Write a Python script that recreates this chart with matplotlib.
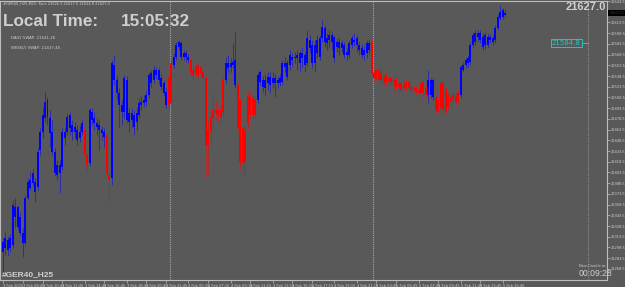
import numpy as np
import matplotlib
matplotlib.use("Agg")
import matplotlib.pyplot as plt

# GER40 M15 candles, 3 Feb - 5 Feb 2025
opens = [21292, 21298, 21295, 21298, 21302, 21341, 21327, 21319, 21305, 21305,
         21368, 21382, 21389, 21376, 21383, 21435, 21460, 21480, 21481, 21459,
         21432, 21403, 21400, 21403, 21411, 21452, 21460, 21466, 21460, 21460,
         21449, 21452, 21460, 21463, 21428, 21417, 21477, 21473, 21467, 21463,
         21459, 21453, 21456, 21400, 21396, 21533, 21515, 21498, 21488, 21488,
         21477, 21474, 21477, 21467, 21474, 21484, 21498, 21501, 21502, 21512,
         21529, 21533, 21540, 21533, 21523, 21515, 21498, 21536, 21557, 21554,
         21565, 21579, 21565, 21565, 21565, 21561, 21561, 21547, 21551, 21554,
         21551, 21544, 21536, 21463, 21481, 21491, 21491, 21491, 21491, 21533,
         21533, 21550, 21551, 21554, 21526, 21526, 21505, 21466, 21463, 21512,
         21509, 21509, 21505, 21505, 21530, 21523, 21522, 21529, 21526, 21529,
         21529, 21529, 21529, 21530, 21551, 21537, 21554, 21561, 21564, 21564,
         21557, 21564, 21554, 21557, 21578, 21557, 21557, 21571, 21565, 21592,
         21586, 21585, 21589, 21586, 21564, 21579, 21578, 21578, 21568, 21568,
         21568, 21582, 21586, 21582, 21575, 21568, 21568, 21571, 21575, 21586,
         21543, 21547, 21547, 21543, 21537, 21540, 21536, 21536, 21533, 21533,
         21529, 21529, 21526, 21530, 21530, 21523, 21522, 21522, 21519, 21529,
         21530, 21522, 21512, 21512, 21509, 21509, 21505, 21529, 21529, 21519,
         21512, 21509, 21512, 21512, 21515, 21512, 21547, 21554, 21557, 21558,
         21582, 21586, 21593, 21589, 21579, 21582, 21582, 21589, 21586, 21589,
         21606, 21620, 21621, 21624]
highs = [21312, 21320, 21315, 21317, 21365, 21368, 21358, 21348, 21326, 21372,
         21396, 21404, 21410, 21396, 21438, 21466, 21495, 21516, 21509, 21491,
         21477, 21438, 21421, 21421, 21466, 21466, 21487, 21488, 21477, 21474,
         21470, 21470, 21477, 21466, 21432, 21494, 21494, 21488, 21480, 21477,
         21469, 21466, 21459, 21404, 21561, 21568, 21539, 21522, 21505, 21540,
         21539, 21494, 21494, 21491, 21494, 21508, 21511, 21512, 21519, 21544,
         21547, 21553, 21551, 21550, 21541, 21533, 21522, 21540, 21561, 21571,
         21586, 21589, 21588, 21575, 21575, 21569, 21564, 21553, 21555, 21558,
         21555, 21548, 21539, 21477, 21488, 21516, 21505, 21498, 21498, 21540,
         21565, 21568, 21564, 21585, 21600, 21530, 21508, 21470, 21470, 21519,
         21516, 21515, 21512, 21544, 21547, 21539, 21541, 21544, 21544, 21544,
         21541, 21539, 21541, 21561, 21565, 21561, 21575, 21571, 21572, 21575,
         21575, 21579, 21572, 21603, 21596, 21589, 21589, 21596, 21596, 21617,
         21610, 21599, 21603, 21600, 21596, 21592, 21592, 21589, 21586, 21578,
         21589, 21596, 21599, 21596, 21586, 21583, 21581, 21589, 21589, 21589,
         21547, 21550, 21551, 21547, 21541, 21544, 21540, 21539, 21536, 21537,
         21533, 21533, 21533, 21536, 21533, 21527, 21526, 21526, 21523, 21533,
         21536, 21526, 21547, 21536, 21536, 21513, 21509, 21533, 21533, 21523,
         21516, 21515, 21516, 21516, 21519, 21554, 21558, 21564, 21568, 21586,
         21600, 21603, 21603, 21603, 21599, 21600, 21599, 21597, 21596, 21610,
         21625, 21638, 21634, 21631]
lows = [21263, 21288, 21287, 21292, 21298, 21327, 21323, 21315, 21285, 21302,
        21365, 21379, 21385, 21362, 21379, 21428, 21452, 21474, 21470, 21439,
        21428, 21399, 21393, 21375, 21407, 21442, 21456, 21456, 21449, 21452,
        21442, 21446, 21456, 21424, 21404, 21413, 21470, 21463, 21456, 21435,
        21449, 21439, 21399, 21361, 21386, 21526, 21505, 21467, 21470, 21480,
        21473, 21460, 21466, 21456, 21463, 21480, 21491, 21495, 21497, 21508,
        21523, 21529, 21534, 21527, 21519, 21511, 21494, 21488, 21497, 21550,
        21561, 21575, 21561, 21561, 21558, 21557, 21539, 21533, 21537, 21536,
        21537, 21530, 21397, 21400, 21442, 21470, 21477, 21474, 21470, 21484,
        21529, 21544, 21544, 21550, 21522, 21460, 21407, 21400, 21399, 21463,
        21477, 21480, 21480, 21501, 21526, 21516, 21512, 21519, 21515, 21522,
        21509, 21522, 21525, 21526, 21544, 21533, 21547, 21553, 21557, 21547,
        21544, 21550, 21544, 21553, 21571, 21550, 21544, 21564, 21561, 21586,
        21579, 21575, 21578, 21575, 21558, 21572, 21568, 21572, 21564, 21561,
        21564, 21578, 21581, 21572, 21568, 21564, 21561, 21564, 21571, 21539,
        21530, 21533, 21529, 21527, 21526, 21525, 21526, 21525, 21519, 21519,
        21516, 21515, 21519, 21518, 21515, 21512, 21516, 21512, 21509, 21511,
        21509, 21508, 21501, 21508, 21505, 21488, 21485, 21490, 21487, 21484,
        21491, 21498, 21501, 21499, 21499, 21508, 21544, 21550, 21551, 21554,
        21578, 21582, 21588, 21585, 21575, 21576, 21578, 21585, 21582, 21585,
        21603, 21617, 21618, 21621]
closes = [21306, 21312, 21309, 21312, 21358, 21355, 21355, 21341, 21319, 21368,
          21390, 21393, 21403, 21390, 21432, 21460, 21484, 21502, 21505, 21480,
          21460, 21432, 21414, 21414, 21460, 21460, 21481, 21484, 21470, 21467,
          21463, 21460, 21473, 21428, 21414, 21491, 21488, 21480, 21473, 21470,
          21463, 21460, 21403, 21393, 21557, 21554, 21533, 21515, 21498, 21536,
          21533, 21487, 21487, 21484, 21487, 21501, 21502, 21505, 21512, 21540,
          21543, 21547, 21547, 21547, 21536, 21529, 21516, 21498, 21501, 21565,
          21582, 21586, 21585, 21571, 21571, 21565, 21543, 21540, 21543, 21540,
          21543, 21536, 21442, 21442, 21460, 21480, 21487, 21484, 21481, 21488,
          21557, 21557, 21557, 21558, 21561, 21466, 21418, 21417, 21418, 21473,
          21484, 21484, 21484, 21540, 21544, 21533, 21533, 21537, 21537, 21536,
          21536, 21533, 21536, 21557, 21557, 21557, 21568, 21565, 21565, 21568,
          21571, 21571, 21568, 21592, 21589, 21582, 21582, 21589, 21592, 21607,
          21606, 21592, 21596, 21596, 21593, 21586, 21586, 21585, 21582, 21572,
          21585, 21592, 21589, 21592, 21582, 21578, 21575, 21585, 21585, 21543,
          21536, 21536, 21533, 21533, 21530, 21529, 21530, 21530, 21529, 21523,
          21523, 21519, 21522, 21523, 21522, 21519, 21519, 21516, 21515, 21515,
          21515, 21512, 21533, 21533, 21533, 21491, 21488, 21494, 21491, 21488,
          21495, 21502, 21505, 21502, 21502, 21551, 21554, 21561, 21564, 21582,
          21596, 21599, 21599, 21599, 21593, 21596, 21593, 21593, 21592, 21606,
          21621, 21628, 21631, 21627]

# trend colouring: 'b' = up trend (blue), 'r' = down trend (red)
trend = ("b" * 33 + "rr" + "b" * 7 + "rr" + "b" * 23 + "rr"
         + "b" * 7 + "r" * 14 + "b" * 5 + "r" * 8 + "b" * 46
         + "r" * 23 + "bbb" + "r" * 10 + "b" * 19)

# time axis labels (bar index, text)
time_ticks = [0, 8, 16, 24, 33, 41, 50, 58, 66,
              75, 83, 92, 100, 109, 117, 125, 134, 143,
              151, 159, 168, 176, 185, 193, 202]
time_labels = ["3 Feb 2025", "3 Feb 08:45", "3 Feb 10:45", "3 Feb 12:45", "3 Feb 14:45",
               "3 Feb 16:45", "3 Feb 18:45", "3 Feb 20:45", "3 Feb 22:45",
               "4 Feb 05:15", "4 Feb 07:15", "4 Feb 09:15", "4 Feb 11:15", "4 Feb 13:15",
               "4 Feb 15:15", "4 Feb 17:15", "4 Feb 19:15", "4 Feb 21:15",
               "5 Feb 03:45", "5 Feb 05:45", "5 Feb 07:45", "5 Feb 09:45", "5 Feb 11:45",
               "5 Feb 13:45", "5 Feb 15:45"]
day_breaks = [67.5, 149.5]

price_ticks = [21643.5 - 15 * k for k in range(26)]
last_price = 21627.0
level_price = 21584.8
daily_vwap = 21541.26
weekly_vwap = 21437.46

bg = "#595959"
fg = "#cfcfcf"
W, H = 625, 287

fig = plt.figure(figsize=(W / 100, H / 100), dpi=100)
fig.patch.set_facecolor(bg)
ax = fig.add_axes([0, 7 / H, 607 / W, 279 / H])
ax.set_facecolor(bg)

o = np.array(opens, float)
c = np.array(closes, float)
hi = np.array(highs, float)
lo = np.array(lows, float)
x = np.arange(len(c))
cols = np.where(np.array(list(trend)) == "b", "#0000ff", "#ff0000")

ax.vlines(x, lo, hi, colors=cols, linewidth=0.7, alpha=0.5, zorder=2)
body_lo = np.minimum(o, c)
body_h = np.maximum(np.abs(c - o), 1.0)
ax.bar(x, body_h, bottom=body_lo, width=0.8, color=cols, linewidth=0, zorder=3)

for d in day_breaks:
    ax.axvline(d, color="#a8a8a8", linewidth=0.8, linestyle=(0, (1, 1)), zorder=1)
shift_x = len(c) + 32.5
ax.axvline(shift_x, color="#8c8c8c", linewidth=0.8, linestyle=(0, (1, 1)), zorder=1)

ax.set_xlim(-1.2, 244.2)
ax.set_ylim(21253, 21643.6)

for s in ax.spines.values():
    s.set_color("#bdbdbd")
    s.set_linewidth(0.8)

ax.yaxis.tick_right()
ax.set_yticks(price_ticks)
# the label next to the current price is hidden behind the price marker
ax.set_yticklabels(["" if abs(p - last_price) < 5 else "%.1f" % p for p in price_ticks])
ax.set_xticks(time_ticks)
ax.set_xticklabels(time_labels)
ax.tick_params(axis="both", colors="#bdbdbd", labelcolor=fg, labelsize=2.6,
               length=2, width=0.5, pad=1)
for lbl in ax.get_xticklabels():
    lbl.set_ha("left")

# price level box and line
ax.text(233.6, level_price, "%.1f" % level_price, color="#22c5c5", fontsize=5.0,
        va="center", ha="right",
        bbox=dict(boxstyle="square,pad=0.2", facecolor="none", edgecolor="#22c5c5", linewidth=0.7))
ax.hlines(level_price, 234.0, shift_x, color="#22c5c5", linewidth=0.7)

# current price marker on the axis
ax.text(1.004, last_price, "%.1f" % last_price, transform=ax.get_yaxis_transform(),
        fontsize=2.6, color="#3a3a3a", va="center", ha="left",
        bbox=dict(boxstyle="square,pad=0.3", facecolor="black", edgecolor="none"))


def ftext(px, py, s, **kw):
    fig.text(px / W, 1 - py / H, s, **kw)


ftext(3, 3.5, "#GER40_H25,M15: Kurs 21626.3 21627.0 21624.8 21627.0", color=fg,
      fontsize=2.6, va="center", ha="left")
ftext(3, 21, "Local Time:", color=fg, fontsize=12.3, fontweight="bold",
      family="Liberation Sans", va="center", ha="left")
ftext(121, 21, "15:05:32", color=fg, fontsize=12.3, fontweight="bold",
      family="Liberation Sans", va="center", ha="left")
ftext(11, 38, "DAILY VWAP: %.2f" % daily_vwap, color=fg, fontsize=2.8, va="center", ha="left")
ftext(11, 48, "WEEKLY VWAP: %.2f" % weekly_vwap, color=fg, fontsize=2.8, va="center", ha="left")
ftext(606, 7, "%.1f" % last_price, color=fg, fontsize=8, fontweight="bold",
      family="Liberation Sans", va="center", ha="right")
ftext(2, 274.5, "#GER40_H25", color=fg, fontsize=6, fontweight="bold",
      family="Liberation Sans", va="center", ha="left")
ftext(579, 266, "New Candle in:", color=fg, fontsize=2.6, va="center", ha="left")
ftext(579, 273.5, "00:09:28", color=fg, fontsize=6.2, family="Liberation Sans",
      va="center", ha="left")

fig.savefig("out.png", dpi=100, facecolor=bg)
